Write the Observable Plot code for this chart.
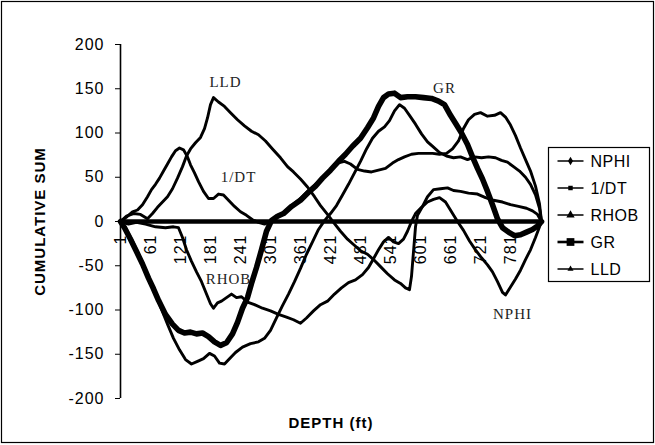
<!DOCTYPE html>
<html>
<head>
<meta charset="utf-8">
<script src="https://cdn.jsdelivr.net/npm/d3@7"></script>
<script src="https://cdn.jsdelivr.net/npm/@observablehq/plot@0.6"></script>
<style>
  html, body { margin: 0; padding: 0; background: #fff; }
  #chart { width: 655px; height: 445px; position: relative; }
</style>
</head>
<body>
<div id="chart"></div>
<script>
// ---- data (depth index, cumulative sum) ----
const depthTicks = [1, 61, 121, 181, 241, 301, 361, 421, 481, 541, 601, 661, 721, 781];
const yTicks = [-200, -150, -100, -50, 0, 50, 100, 150, 200];
const seriesNames = ["NPHI", "1/DT", "RHOB", "GR", "LLD"];

const nphi = [[1,0],[11,-7],[23,-20],[35,-34],[47,-49],[59,-65],[71,-82],[83,-99],[95,-116],[107,-132],[119,-145],[131,-156],[143,-161],[155,-158],[167,-155],[179,-149],[189,-152],[199,-160],[209,-161],[219,-155],[231,-148],[245,-142],[261,-138],[277,-136],[289,-132],[301,-123],[313,-109],[325,-95],[337,-82],[349,-68],[361,-53],[373,-37],[385,-23],[397,-9],[409,1],[421,9],[433,18],[445,30],[457,42],[469,55],[481,68],[493,82],[505,94],[517,102],[529,107],[539,114],[549,125],[559,132],[569,128],[579,120],[591,110],[603,99],[615,90],[627,84],[639,78],[653,74],[667,72],[681,73],[695,70],[709,73],[723,72],[737,73],[751,72],[763,69],[775,67],[787,62],[799,57],[811,50],[821,42],[831,30],[839,15],[843,0]];

const invDT = [[1,0],[13,5],[25,11],[35,13],[45,19],[55,28],[63,36],[71,42],[79,49],[87,57],[95,65],[103,73],[111,80],[119,83],[127,81],[135,73],[141,64],[149,55],[157,45],[167,34],[177,26],[187,26],[197,31],[207,30],[217,24],[229,17],[241,11],[253,7],[265,2],[277,-1],[289,-3],[301,0],[313,5],[327,10],[343,18],[361,26],[377,35],[393,43],[407,51],[421,59],[435,66],[449,68],[461,65],[475,59],[489,57],[503,56],[517,58],[531,60],[545,66],[557,70],[569,73],[583,76],[597,77],[611,77],[625,77],[639,76],[653,77],[665,82],[677,91],[687,105],[697,115],[709,121],[721,123],[735,119],[749,120],[761,123],[771,118],[781,109],[791,97],[801,83],[811,70],[821,57],[831,40],[839,20],[843,0]];

const rhob = [[1,0],[17,-3],[33,-1],[51,-3],[71,-6],[91,-7],[107,-6],[117,-7],[125,-18],[133,-32],[143,-45],[153,-57],[163,-68],[173,-82],[181,-93],[187,-98],[195,-92],[203,-90],[213,-86],[223,-82],[233,-86],[243,-85],[255,-91],[269,-94],[285,-98],[301,-101],[317,-105],[333,-108],[347,-111],[361,-115],[373,-109],[387,-101],[401,-94],[415,-90],[429,-82],[443,-75],[457,-69],[471,-66],[485,-60],[497,-52],[507,-42],[517,-32],[527,-23],[537,-18],[547,-23],[557,-25],[567,-20],[575,-11],[583,0],[591,9],[603,16],[615,22],[627,25],[639,27],[651,22],[663,11],[675,0],[687,-10],[699,-22],[711,-32],[723,-41],[735,-49],[745,-57],[755,-68],[765,-80],[771,-83],[781,-74],[791,-65],[801,-55],[811,-43],[821,-32],[831,-18],[843,0]];

const gr = [[1,0],[9,-7],[21,-20],[33,-34],[45,-48],[57,-64],[67,-76],[77,-89],[91,-105],[105,-116],[117,-123],[129,-126],[141,-125],[153,-127],[165,-126],[177,-130],[189,-136],[201,-140],[213,-137],[225,-127],[235,-114],[245,-98],[255,-86],[263,-70],[273,-52],[283,-32],[293,-11],[303,1],[315,6],[327,9],[343,17],[361,24],[377,33],[391,40],[405,49],[421,58],[437,68],[451,76],[465,85],[481,94],[495,106],[507,117],[517,130],[527,140],[537,144],[549,145],[561,140],[575,141],[591,141],[607,140],[623,139],[637,136],[649,132],[661,120],[671,111],[683,100],[695,87],[705,73],[715,60],[725,48],[735,34],[745,19],[755,3],[765,-7],[777,-12],[789,-16],[801,-15],[813,-12],[825,-9],[835,-5],[843,0]];

const lld = [[1,0],[13,6],[27,9],[41,8],[55,3],[65,9],[75,16],[85,22],[95,28],[105,37],[115,49],[125,62],[133,74],[141,82],[151,89],[161,95],[169,105],[175,117],[181,132],[187,140],[197,135],[209,130],[221,123],[235,115],[249,108],[263,102],[277,98],[291,91],[305,82],[321,72],[335,62],[347,56],[361,48],[375,39],[389,28],[401,18],[415,8],[427,-1],[441,-11],[455,-20],[467,-26],[481,-33],[495,-37],[507,-43],[521,-51],[535,-59],[549,-66],[561,-70],[571,-75],[579,-77],[583,-62],[587,-34],[591,-6],[595,7],[605,17],[615,28],[627,36],[641,37],[655,38],[667,35],[681,34],[697,32],[715,31],[731,27],[747,24],[765,22],[781,19],[797,17],[813,15],[825,12],[835,8],[843,0]];

// in-chart labels: [text, depth index, value]
const annotations = [["LLD", 211, 157], ["1/DT", 237, 50], ["GR", 649, 151], ["RHOB", 217, -65], ["NPHI", 785, -105]];

// ---- build ----
const seriesData = [nphi, invDT, rhob, gr, lld];
const rows = seriesData.flatMap((arr, i) => arr.map(([d, v]) => ({series: seriesNames[i], d, v})));
const widths = {"NPHI": 2.9, "1/DT": 2.9, "RHOB": 2.9, "GR": 5.6, "LLD": 2.9};

const font = "'Liberation Sans', Arial, sans-serif";

const plot = Plot.plot({
  width: 655,
  height: 445,
  marginLeft: 120,
  marginRight: 114,
  marginTop: 44,
  marginBottom: 47,
  style: {fontFamily: font, fontSize: "16px", background: "transparent", color: "#000", overflow: "visible", letterSpacing: "1px"},
  x: {domain: [1, 843], axis: null},
  y: {domain: [-200, 200], ticks: yTicks, tickSize: 5, tickPadding: 11, label: null, tickFormat: d => d},
  marks: [
    Plot.text(depthTicks, {x: d => d, y: 0, text: d => String(d), rotate: -90, textAnchor: "end", dy: 13, fontSize: 16, fill: "#000"}),
    Plot.ruleX([1], {y1: -200, y2: 200, stroke: "#000", strokeWidth: 1.6}),
    ...seriesNames.map(name => Plot.line(rows.filter(r => r.series === name), {
      x: "d", y: "v", stroke: "#000", strokeWidth: widths[name], strokeLinejoin: "round", strokeLinecap: "round"
    })),
    Plot.ruleY([0], {stroke: "#000", strokeWidth: 4.5}),
    Plot.text(annotations, {x: d => d[1], y: d => d[2], text: d => d[0], fontFamily: "'Liberation Serif', 'Times New Roman', serif", fontSize: 15, fill: "#222", letterSpacing: "0.5px"}),
    Plot.text(["CUMULATIVE SUM"], {frameAnchor: "left", dx: -80, rotate: -90, textAnchor: "middle", lineAnchor: "middle", fontWeight: "bold", fontSize: 15, fill: "#000", letterSpacing: "0.3px"}),
    Plot.text(["DEPTH (ft)"], {frameAnchor: "bottom", dy: 25, textAnchor: "middle", lineAnchor: "middle", fontWeight: "bold", fontSize: 15, fill: "#000", letterSpacing: "0.5px"})
  ]
});

document.getElementById("chart").appendChild(plot);

// outer frame and legend
const svg = d3.select(plot);
svg.insert("rect", ":first-child")
  .attr("x", 1.5).attr("y", 1.5).attr("width", 652).attr("height", 441)
  .attr("fill", "#fff").attr("stroke", "#000").attr("stroke-width", 1.2);

const lg = svg.append("g").attr("transform", "translate(548.5,147.5)");
lg.append("rect").attr("width", 101).attr("height", 134).attr("fill", "#fff").attr("stroke", "#000").attr("stroke-width", 1.2);
const markers = {
  "NPHI": d3.symbolDiamond, "1/DT": d3.symbolSquare, "RHOB": d3.symbolTriangle, "GR": d3.symbolSquare, "LLD": d3.symbolTriangle
};
const msize = {"NPHI": 22, "1/DT": 20, "RHOB": 30, "GR": 60, "LLD": 16};
seriesNames.forEach((name, i) => {
  const g = lg.append("g").attr("transform", `translate(0,${13.5 + i * 27})`);
  g.append("line").attr("x1", 9).attr("x2", 35).attr("y1", 0).attr("y2", 0)
    .attr("stroke", "#000").attr("stroke-width", name === "GR" ? 2.6 : 1.5);
  g.append("path").attr("transform", "translate(22,0)")
    .attr("d", d3.symbol(markers[name], msize[name])()).attr("fill", "#000");
  g.append("text").attr("x", 42).attr("y", 0).attr("dy", "0.36em")
    .attr("text-anchor", "start")
    .attr("font-family", font).attr("font-size", 16).attr("letter-spacing", "0.5px").attr("fill", "#000").text(name);
});
</script>
</body>
</html>
